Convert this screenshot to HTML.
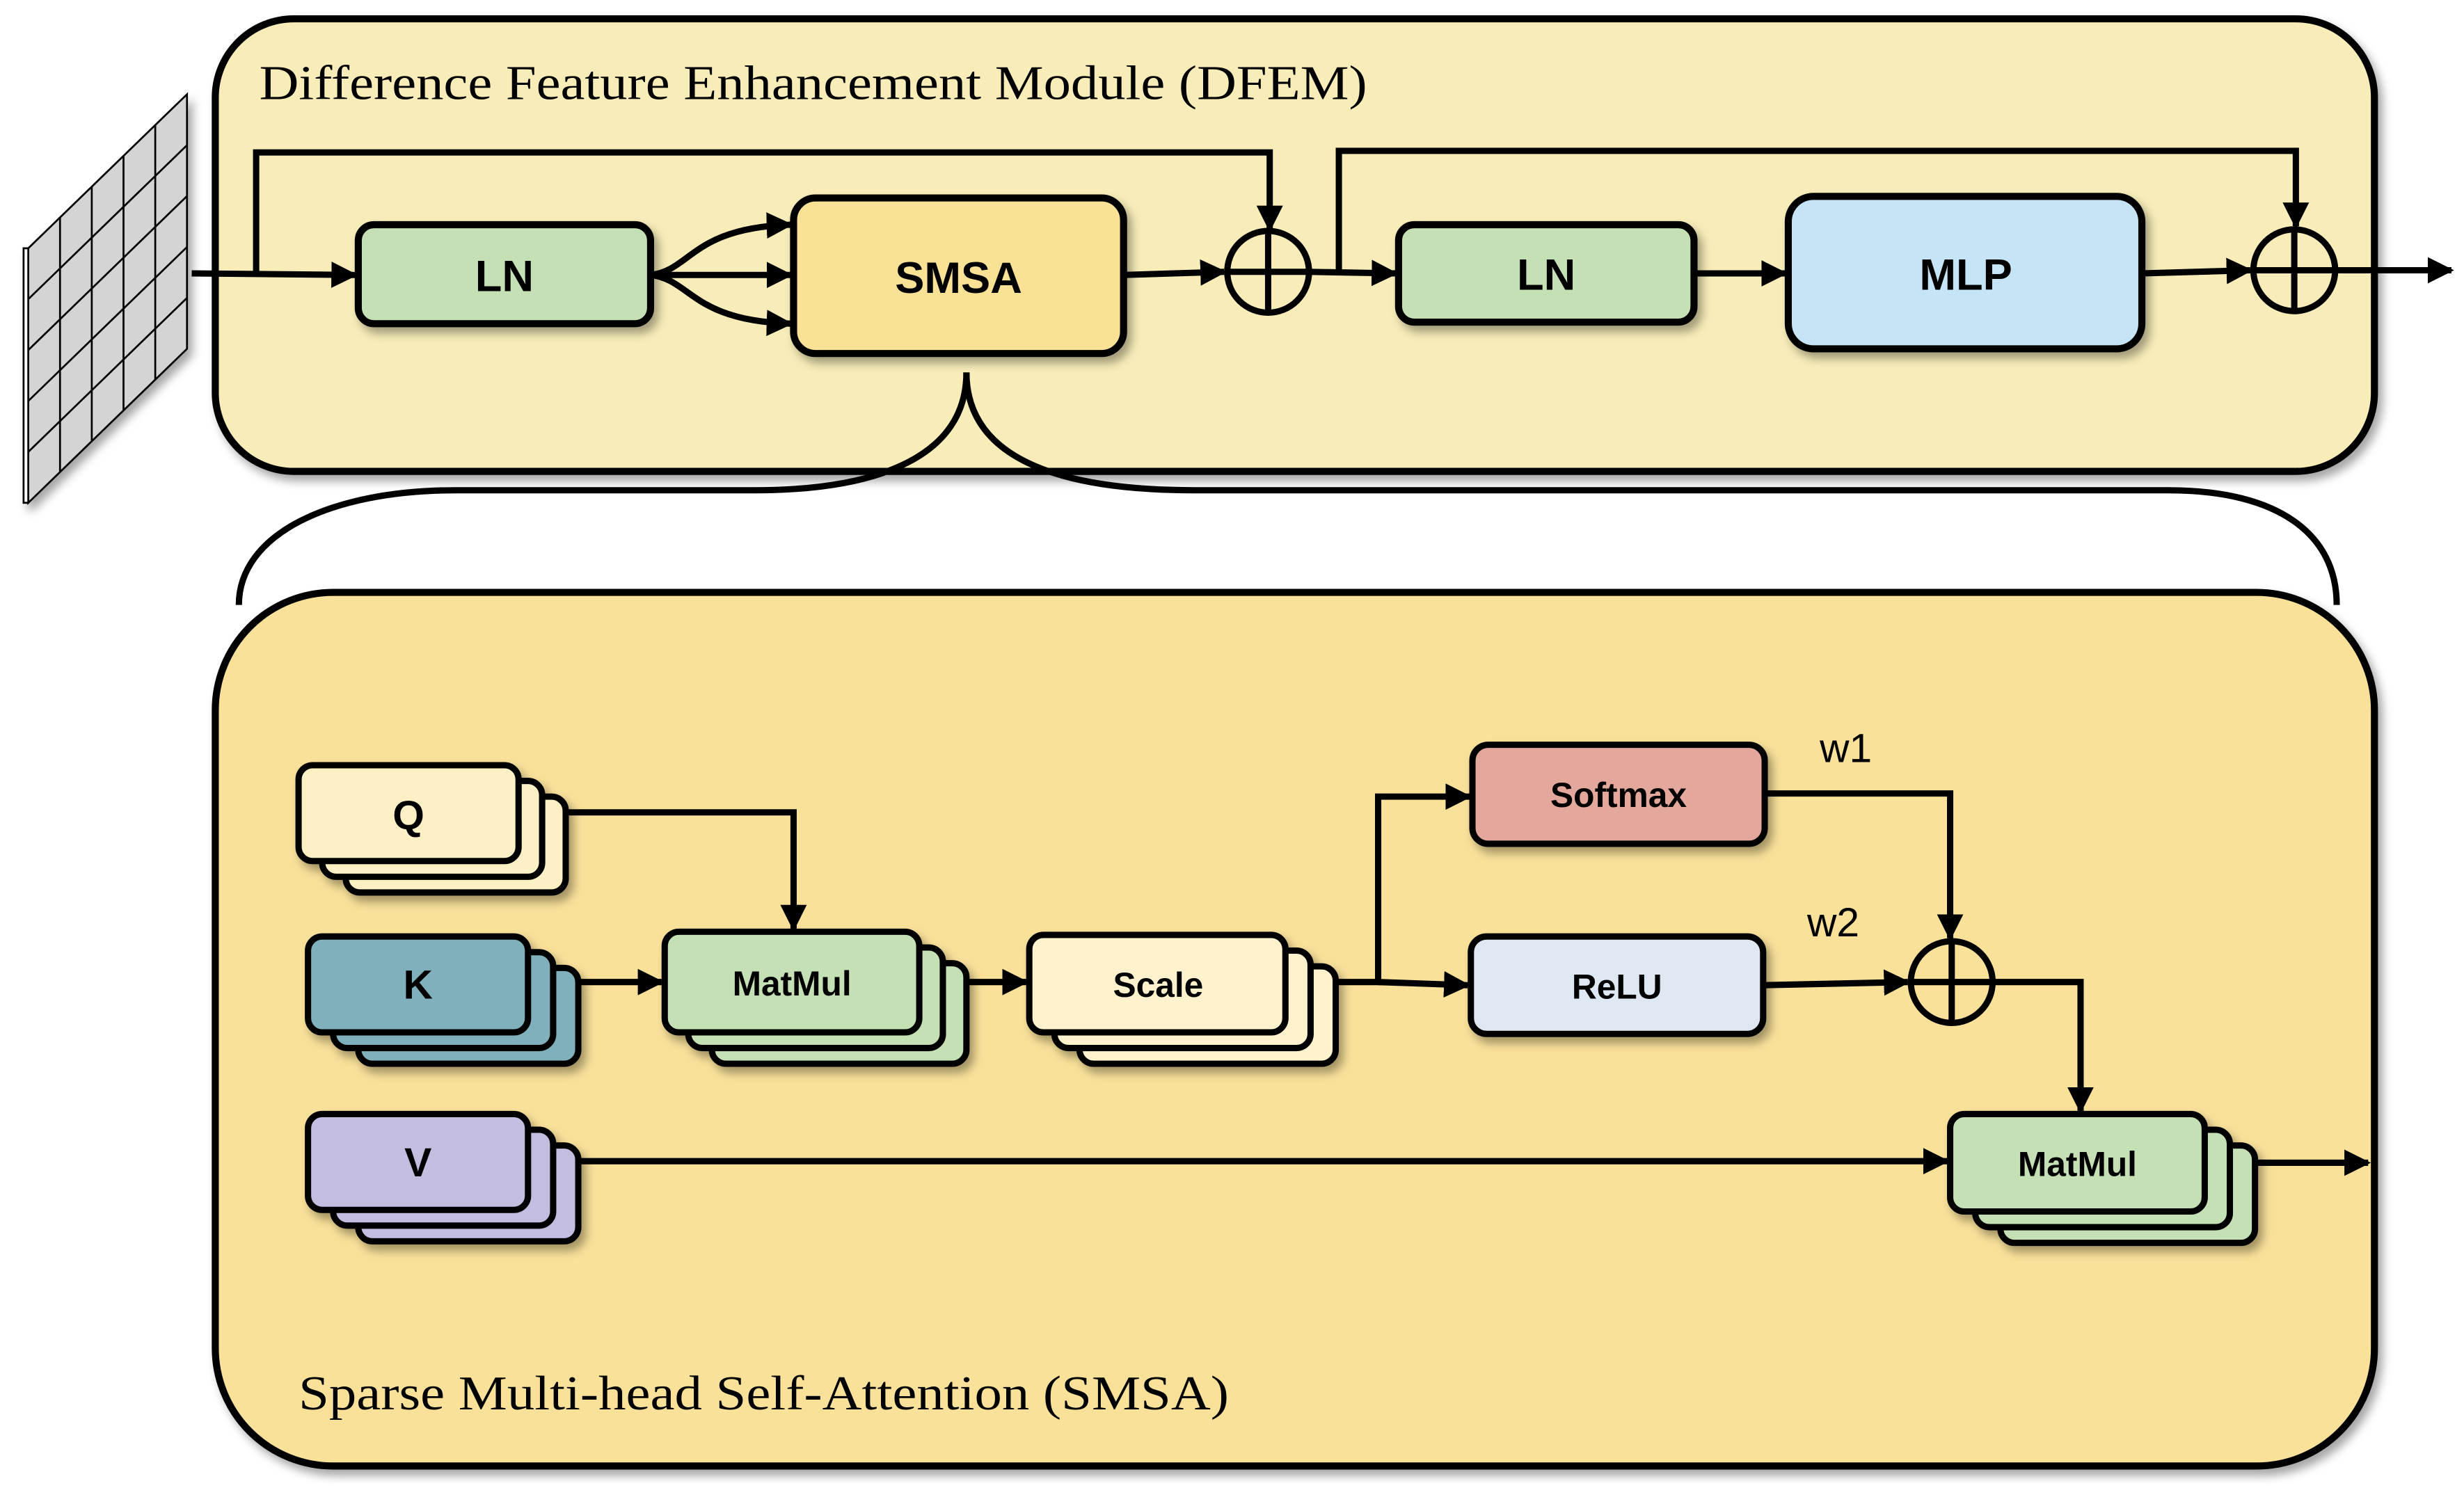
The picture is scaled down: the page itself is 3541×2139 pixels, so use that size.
<!DOCTYPE html>
<html><head><meta charset="utf-8"><style>
html,body{margin:0;padding:0;background:#fff;}
svg{display:block;}
.t{font-family:"Liberation Sans",sans-serif;font-weight:bold;text-anchor:middle;dominant-baseline:central;}
.s{font-family:"Liberation Serif",serif;}
</style></head><body>
<svg width="3541" height="2139" viewBox="0 0 1568 947" preserveAspectRatio="none" xmlns="http://www.w3.org/2000/svg">
<defs>
<marker id="a" viewBox="0 0 10 10" refX="9" refY="5" markerWidth="4.2" markerHeight="4.2" orient="auto" markerUnits="strokeWidth"><path d="M0,0 L10,5 L0,10 z" fill="#000"/></marker>
<filter id="sh" x="-10%" y="-10%" width="130%" height="140%"><feDropShadow dx="3" dy="4" stdDeviation="3" flood-color="#000" flood-opacity="0.35"/></filter>
</defs>

<!-- top box -->
<rect x="137" y="12" width="1374" height="288" rx="50" fill="#f8edb9" stroke="#000" stroke-width="4.5" filter="url(#sh)"/>
<text x="165" y="63" class="s" font-size="31" textLength="705" lengthAdjust="spacingAndGlyphs">Difference Feature Enhancement Module (DFEM)</text>

<!-- bottom box -->
<rect x="137" y="377" width="1374" height="556" rx="75" fill="#f9e19a" stroke="#000" stroke-width="4.5" filter="url(#sh)"/>
<text x="190" y="897" class="s" font-size="31" textLength="592" lengthAdjust="spacingAndGlyphs">Sparse Multi-head Self-Attention (SMSA)</text>

<!-- brace -->
<path d="M615,237 C615,290 560,312 480,312 L290,312 C210,312 152,340 152,385" fill="none" stroke="#000" stroke-width="4"/>
<path d="M615,237 C615,290 670,312 760,312 L1380,312 C1450,312 1487,340 1487,385" fill="none" stroke="#000" stroke-width="4"/>

<!-- feature grid -->
<g stroke="#000" stroke-width="1.2" filter="url(#sh)">
<polygon points="18,158 119,60 119,222 18,320" fill="#d4d4d4"/>
<polygon points="15,158 18,158 18,320 15,320" fill="#fff"/>
<g fill="none">
<line x1="38.2" y1="138.4" x2="38.2" y2="300.4"/><line x1="58.4" y1="118.8" x2="58.4" y2="280.8"/><line x1="78.6" y1="99.2" x2="78.6" y2="261.2"/><line x1="98.8" y1="79.6" x2="98.8" y2="241.6"/>
<line x1="18" y1="190.4" x2="119" y2="92.4"/><line x1="18" y1="222.8" x2="119" y2="124.8"/><line x1="18" y1="255.2" x2="119" y2="157.2"/><line x1="18" y1="287.6" x2="119" y2="189.6"/>
</g>
</g>

<g stroke="#000" stroke-width="4" fill="none">
<!-- top flow -->
<line x1="122" y1="174" x2="226" y2="175" marker-end="url(#a)"/>
<polyline points="163,174 163,97 808,97 808,146" marker-end="url(#a)"/>
<path d="M414,175 C440,172 440,145 503,143" marker-end="url(#a)"/>
<line x1="414" y1="175" x2="503" y2="175" marker-end="url(#a)"/>
<path d="M414,175 C440,178 440,204 503,206" marker-end="url(#a)"/>
<line x1="715" y1="175" x2="779" y2="173" marker-end="url(#a)"/>
<line x1="833" y1="173" x2="888" y2="174" marker-end="url(#a)"/>
<polyline points="852,173 852,96 1461,96 1461,144" marker-end="url(#a)"/>
<line x1="1078" y1="174" x2="1136" y2="174" marker-end="url(#a)"/>
<line x1="1363" y1="174" x2="1432" y2="172" marker-end="url(#a)"/>
<line x1="1486" y1="172" x2="1560" y2="172" marker-end="url(#a)"/>
<!-- bottom flow -->
<polyline points="360,517 505,517 505,591" marker-end="url(#a)"/>
<line x1="368" y1="625" x2="421" y2="625" marker-end="url(#a)"/>
<line x1="615" y1="625" x2="653" y2="625" marker-end="url(#a)"/>
<polyline points="850,625 877,625 877,507 935,507" marker-end="url(#a)"/>
<line x1="877" y1="625" x2="934" y2="627" marker-end="url(#a)"/>
<polyline points="1123,505 1241,505 1241,597" marker-end="url(#a)"/>
<line x1="1122" y1="627" x2="1214" y2="625" marker-end="url(#a)"/>
<polyline points="1268,625 1324,625 1324,707" marker-end="url(#a)"/>
<line x1="368" y1="739" x2="1239" y2="739" marker-end="url(#a)"/>
<line x1="1435" y1="740" x2="1507" y2="740" marker-end="url(#a)"/>
</g>

<!-- oplus -->
<g stroke="#000" stroke-width="4" fill="none">
<circle cx="807" cy="173" r="26"/><line x1="781" y1="173" x2="833" y2="173"/><line x1="807" y1="147" x2="807" y2="199"/>
<circle cx="1460" cy="172" r="26"/><line x1="1434" y1="172" x2="1486" y2="172"/><line x1="1460" y1="146" x2="1460" y2="198"/>
<circle cx="1242" cy="625" r="26"/><line x1="1216" y1="625" x2="1268" y2="625"/><line x1="1242" y1="599" x2="1242" y2="651"/>
</g>

<!-- top boxes -->
<g stroke="#000" stroke-width="4.5" filter="url(#sh)">
<rect x="228" y="143" width="186" height="63" rx="10" fill="#c5e0b4"/>
<rect x="505" y="126" width="210" height="99" rx="14" fill="#f9e196"/>
<rect x="890" y="143" width="188" height="62" rx="10" fill="#c5e0b4"/>
<rect x="1138" y="125" width="225" height="97" rx="16" fill="#c5e5f7"/>
</g>
<text x="321" y="176" class="t" font-size="28">LN</text>
<text x="610" y="177" class="t" font-size="28">SMSA</text>
<text x="984" y="175" class="t" font-size="28">LN</text>
<text x="1251" y="175" class="t" font-size="28">MLP</text>

<!-- stacks -->
<g stroke="#000" stroke-width="4" filter="url(#sh)">
<rect x="220" y="507" width="140" height="61" rx="9" fill="#fdf0c4"/>
<rect x="205" y="497" width="140" height="61" rx="9" fill="#fdf0c4"/>
<rect x="190" y="487" width="140" height="61" rx="9" fill="#fdf0c4"/>

<rect x="228" y="616" width="140" height="61" rx="9" fill="#7fb0bb"/>
<rect x="212" y="606" width="140" height="61" rx="9" fill="#7fb0bb"/>
<rect x="196" y="596" width="140" height="61" rx="9" fill="#7fb0bb"/>

<rect x="228" y="729" width="140" height="61" rx="9" fill="#c3bee0"/>
<rect x="212" y="719" width="140" height="61" rx="9" fill="#c3bee0"/>
<rect x="196" y="709" width="140" height="61" rx="9" fill="#c3bee0"/>

<rect x="453" y="613" width="162" height="64" rx="9" fill="#c5e0b4"/>
<rect x="438" y="603" width="162" height="64" rx="9" fill="#c5e0b4"/>
<rect x="423" y="593" width="162" height="64" rx="9" fill="#c5e0b4"/>

<rect x="687" y="615" width="163" height="62" rx="9" fill="#fff2cc"/>
<rect x="671" y="605" width="163" height="62" rx="9" fill="#fff2cc"/>
<rect x="655" y="595" width="163" height="62" rx="9" fill="#fff2cc"/>

<rect x="1273" y="729" width="162" height="62" rx="9" fill="#c5e0b4"/>
<rect x="1257" y="719" width="162" height="62" rx="9" fill="#c5e0b4"/>
<rect x="1241" y="709" width="162" height="62" rx="9" fill="#c5e0b4"/>

<rect x="937" y="474" width="186" height="63" rx="10" fill="#e3a89b"/>
<rect x="936" y="596" width="186" height="62" rx="10" fill="#dde8f3"/>
</g>
<text x="260" y="519" class="t" font-size="26">Q</text>
<text x="266" y="627" class="t" font-size="26">K</text>
<text x="266" y="740" class="t" font-size="26">V</text>
<text x="504" y="626" class="t" font-size="22">MatMul</text>
<text x="737" y="627" class="t" font-size="22">Scale</text>
<text x="1030" y="506" class="t" font-size="22">Softmax</text>
<text x="1029" y="628" class="t" font-size="22">ReLU</text>
<text x="1322" y="741" class="t" font-size="22">MatMul</text>
<text x="1158" y="485" font-family="Liberation Sans, sans-serif" font-size="26">w1</text>
<text x="1150" y="596" font-family="Liberation Sans, sans-serif" font-size="26">w2</text>
</svg>
</body></html>
